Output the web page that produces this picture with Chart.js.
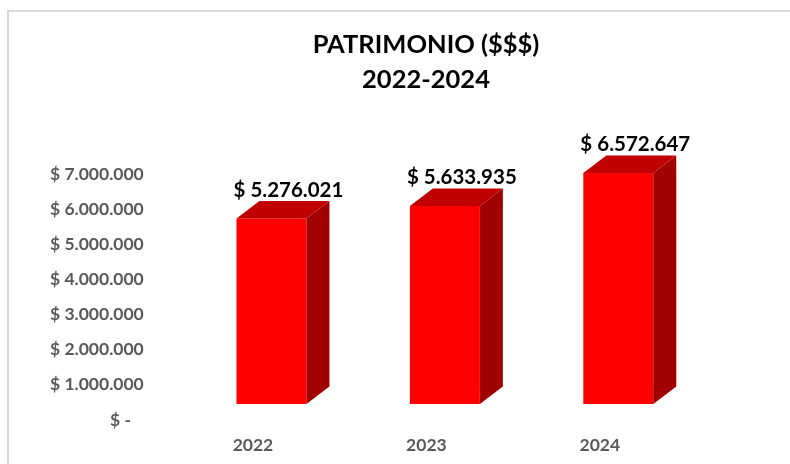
<!DOCTYPE html>
<html>
<head>
<meta charset="utf-8">
<script src="https://cdn.jsdelivr.net/npm/chart.js@4.4.1/dist/chart.umd.min.js"></script>
<style>
html,body{margin:0;padding:0;background:#fff;}
#wrap{width:790px;height:464px;position:relative;}
</style>
</head>
<body>
<div id="wrap"><canvas id="c" width="790" height="464"></canvas></div>
<script>
const titleLines = ['PATRIMONIO ($$$)', '2022-2024'];
const categories = ['2022', '2023', '2024'];
const values = [5276021, 5633935, 6572647];
const yTickValues = [0, 1000000, 2000000, 3000000, 4000000, 5000000, 6000000, 7000000];

function fmtMoney(v) {
  if (v === 0) return '$ -   ';
  return '$ ' + Math.round(v).toString().replace(/\B(?=(\d{3})+(?!\d))/g, '.');
}

const DX = 23, DY = 17.6;

const framePlugin = {
  id: 'frame',
  beforeDraw(chart) {
    const ctx = chart.ctx;
    ctx.save();
    ctx.fillStyle = '#ffffff';
    ctx.fillRect(0, 0, chart.width, chart.height);
    ctx.fillStyle = '#d9d9d9';
    ctx.fillRect(7, 10, chart.width - 7, 2);
    ctx.fillRect(7, 10, 2, chart.height - 10);
    // title
    ctx.fillStyle = '#000000';
    ctx.font = 'bold 25.5px Lato';
    ctx.textAlign = 'center';
    ctx.textBaseline = 'middle';
    titleLines.forEach((t, i) => ctx.fillText(t, 426, 45 + i * 35));
    ctx.restore();
  }
};

const box3dPlugin = {
  id: 'box3d',
  afterDatasetsDraw(chart) {
    const ctx = chart.ctx;
    const meta = chart.getDatasetMeta(0);
    ctx.save();
    meta.data.forEach((bar, i) => {
      const p = bar.getProps(['x', 'y', 'base', 'width'], true);
      const l = p.x - p.width / 2, r = p.x + p.width / 2;
      // side face
      ctx.fillStyle = '#a00000';
      ctx.beginPath();
      ctx.moveTo(r, p.y);
      ctx.lineTo(r + DX, p.y - DY);
      ctx.lineTo(r + DX, p.base - DY);
      ctx.lineTo(r, p.base);
      ctx.closePath();
      ctx.fill();
      // top face
      ctx.fillStyle = '#c00000';
      ctx.beginPath();
      ctx.moveTo(l, p.y);
      ctx.lineTo(l + DX, p.y - DY);
      ctx.lineTo(r + DX, p.y - DY);
      ctx.lineTo(r, p.y);
      ctx.closePath();
      ctx.fill();
      // value label
      ctx.fillStyle = '#000000';
      ctx.font = 'bold 20.5px Lato';
      ctx.textAlign = 'center';
      ctx.textBaseline = 'alphabetic';
      ctx.fillText(fmtMoney(values[i]), p.x + 17, p.y - DY - 4);
    });
    ctx.restore();
  }
};

new Chart(document.getElementById('c'), {
  type: 'bar',
  data: {
    labels: categories,
    datasets: [{
      data: values,
      backgroundColor: '#ff0000',
      borderWidth: 0,
      barPercentage: 0.4035,
      categoryPercentage: 1.0
    }]
  },
  options: {
    responsive: false,
    animation: false,
    layout: { padding: { left: 40, right: 85, top: 158, bottom: 0 } },
    plugins: {
      legend: { display: false },
      tooltip: { enabled: false },
      title: { display: false }
    },
    scales: {
      x: {
        grid: { display: false, drawTicks: false },
        border: { display: false },
        ticks: {
          color: '#595959',
          font: { family: 'Lato', size: 17.5, weight: 'bold' },
          padding: 30.5,
          labelOffset: -18.5
        },
        afterFit(scale) { scale.height = 60; }
      },
      y: {
        min: 0,
        max: 7000000,
        grid: { display: false, drawTicks: false },
        border: { display: false },
        afterBuildTicks(scale) { scale.ticks = yTickValues.map(v => ({ value: v })); },
        ticks: {
          color: '#595959',
          font: { family: 'Lato', size: 17.5, weight: 'bold' },
          padding: 41,
          labelOffset: 16,
          callback: (v) => fmtMoney(v)
        },
        afterFit(scale) { scale.width = 144.75; }
      }
    }
  },
  plugins: [framePlugin, box3dPlugin]
});
</script>
</body>
</html>
